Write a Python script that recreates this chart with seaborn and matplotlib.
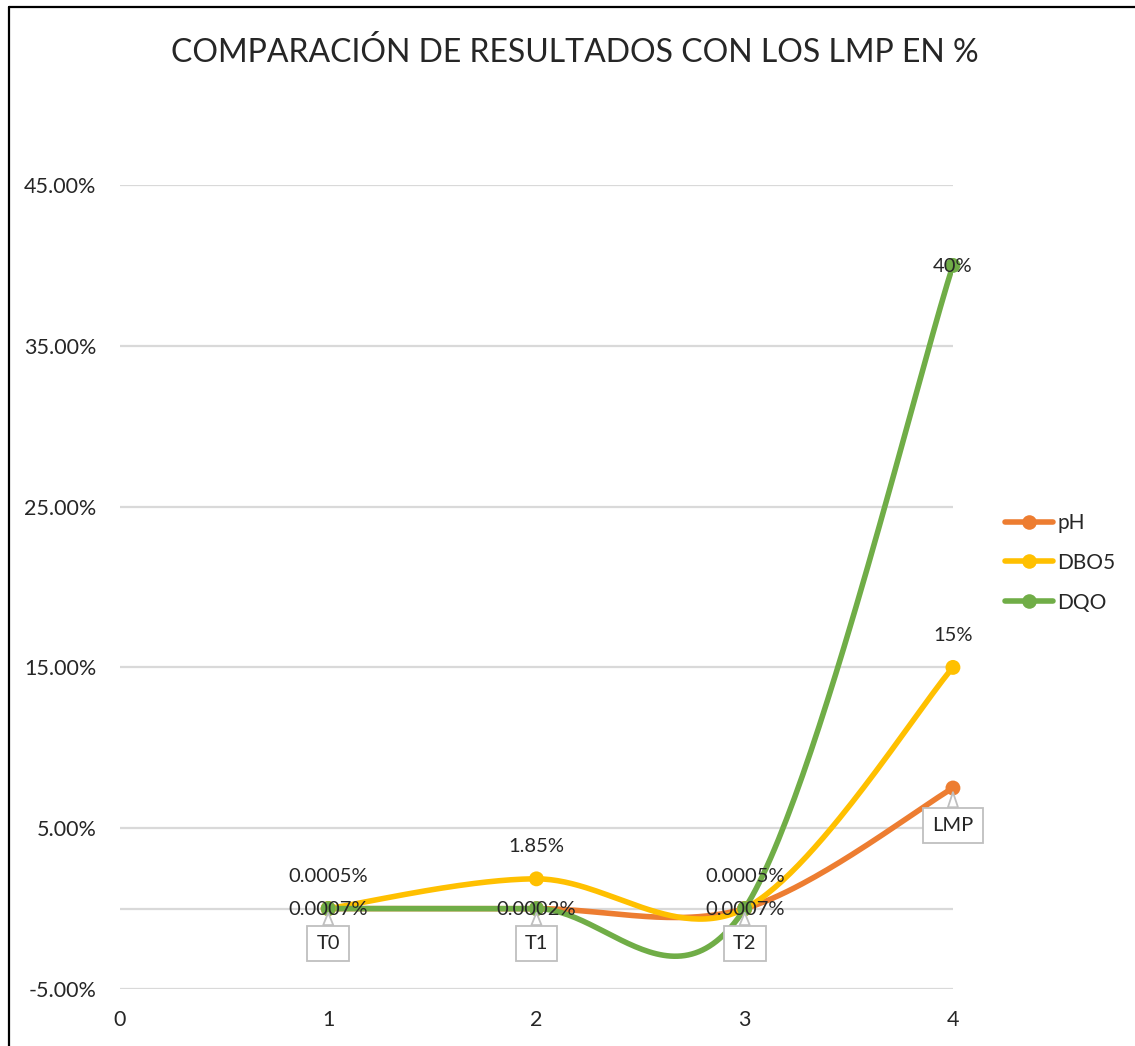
import numpy as np
import pandas as pd
import matplotlib
matplotlib.use("Agg")
import matplotlib.pyplot as plt
import seaborn as sns
from matplotlib.lines import Line2D
from matplotlib.ticker import FuncFormatter, MultipleLocator

# data (values in %)
x_pos = [1, 2, 3, 4]
ph = [0.0007, 0.0002, 0.0007, 7.5]
dbo5 = [0.0005, 1.85, 0.0005, 15.0]
dqo = [0.0007, 0.0002, 0.0007, 40.0]
series_names = ["pH", "DBO5", "DQO"]
colors = ["#ED7D31", "#FFC000", "#70AD47"]

ph_labels = ["T0", "T1", "T2", "LMP"]
dbo5_labels = ["0.0005%", "1.85%", "0.0005%", "15%"]
dqo_labels = ["0.0007%", "0.0002%", "0.0007%", "40%"]


def smooth(xs, ys, n=60):
    # excel-like smoothed line: cubic bezier with catmull-rom control points
    xs = np.asarray(xs, float)
    ys = np.asarray(ys, float)
    px, py = [], []
    m = len(xs)
    for i in range(m - 1):
        i0 = max(i - 1, 0)
        i3 = min(i + 2, m - 1)
        c1x = xs[i] + (xs[i + 1] - xs[i0]) / 6
        c1y = ys[i] + (ys[i + 1] - ys[i0]) / 6
        c2x = xs[i + 1] - (xs[i3] - xs[i]) / 6
        c2y = ys[i + 1] - (ys[i3] - ys[i]) / 6
        t = np.linspace(0, 1, n)
        a, b, c, d = (1 - t) ** 3, 3 * (1 - t) ** 2 * t, 3 * (1 - t) * t ** 2, t ** 3
        px.extend(a * xs[i] + b * c1x + c * c2x + d * xs[i + 1])
        py.extend(a * ys[i] + b * c1y + c * c2y + d * ys[i + 1])
    return px, py


def main():
    sns.set_style("white")
    plt.rcParams['font.family'] = ['Lato', 'DejaVu Sans']

    fig = plt.figure(figsize=(11.35, 10.46), dpi=100)
    ax = fig.add_axes([0.1057, 0.0545, 0.7339, 0.7686])

    rows = []
    pts = []
    for name, vals in zip(series_names, [ph, dbo5, dqo]):
        sx, sy = smooth(x_pos, vals)
        for a, b in zip(sx, sy):
            rows.append({"x": a, "y": b, "serie": name})
        for a, b in zip(x_pos, vals):
            pts.append({"x": a, "y": b, "serie": name})
    curves = pd.DataFrame(rows)
    points = pd.DataFrame(pts)

    pal = dict(zip(series_names, colors))
    ax.axhline(0, color="#D9D9D9", lw=1.6, zorder=1)
    for name in series_names:
        sns.lineplot(data=curves[curves.serie == name], x="x", y="y", color=pal[name],
                     sort=False, estimator=None, lw=4, ax=ax, zorder=3, legend=False)
        sns.scatterplot(data=points[points.serie == name], x="x", y="y", color=pal[name],
                        s=115, edgecolor="none", ax=ax, zorder=4, legend=False, clip_on=False)

    # data labels
    for xv, yv, lab in zip(x_pos, dbo5, dbo5_labels):
        ax.annotate(lab, (xv, yv), xytext=(0, 23), textcoords="offset points",
                    ha="center", va="center", fontsize=14.5, zorder=6)
    for xv, yv, lab in zip(x_pos, dqo, dqo_labels):
        ax.annotate(lab, (xv, yv), xytext=(0, -1), textcoords="offset points",
                    ha="center", va="center", fontsize=14.5, zorder=6)
    for i, (xv, yv, lab) in enumerate(zip(x_pos, ph, ph_labels)):
        off = (0, -25) if i < 3 else (0, -27)
        ax.annotate(lab, (xv, yv), xytext=off, textcoords="offset points",
                    ha="center", va="center", fontsize=14.5, zorder=7,
                    bbox=dict(boxstyle="square,pad=0.45", fc="white", ec="#BFBFBF", lw=1.3),
                    arrowprops=dict(arrowstyle="wedge,tail_width=0.5,shrink_factor=0.5",
                                    fc="white", ec="#BFBFBF", lw=1.3, shrinkA=0, shrinkB=3))

    ax.set_xlim(0, 4)
    ax.set_ylim(-5, 45)
    ax.xaxis.set_major_locator(MultipleLocator(1))
    ax.set_yticks([-5, 5, 15, 25, 35, 45])
    ax.yaxis.set_major_formatter(FuncFormatter(lambda v, p: f"{v:.2f}%"))
    ax.grid(axis="y", color="#D9D9D9", lw=1.6)
    ax.set_axisbelow(True)
    for s in ax.spines.values():
        s.set_visible(False)
    ax.tick_params(axis="both", length=0, labelsize=15.5)
    ax.tick_params(axis="x", pad=15)
    ax.tick_params(axis="y", pad=17)
    ax.set_xlabel("")
    ax.set_ylabel("")

    handles = [Line2D([0], [0], color=c, lw=4, marker="o", ms=10.5, markeredgewidth=0)
               for c in colors]
    fig.legend(handles, series_names, loc="center left", bbox_to_anchor=(0.869, 0.462),
               frameon=False, fontsize=15, handlelength=2.3, handletextpad=0.2,
               labelspacing=0.95)

    fig.text(575 / 1135, 1 - 52 / 1046, "COMPARACIÓN DE RESULTADOS CON LOS LMP EN %",
             ha="center", va="center", fontsize=23)

    # chart border (only top and left visible in the crop)
    fig.add_artist(Line2D([0.008, 1], [0.9933, 0.9933], transform=fig.transFigure,
                          color="black", lw=1.6))
    fig.add_artist(Line2D([0.008, 0.008], [0, 0.9933], transform=fig.transFigure,
                          color="black", lw=1.6))

    fig.savefig("out.png", dpi=100)
    plt.close(fig)


if __name__ == "__main__":
    main()
